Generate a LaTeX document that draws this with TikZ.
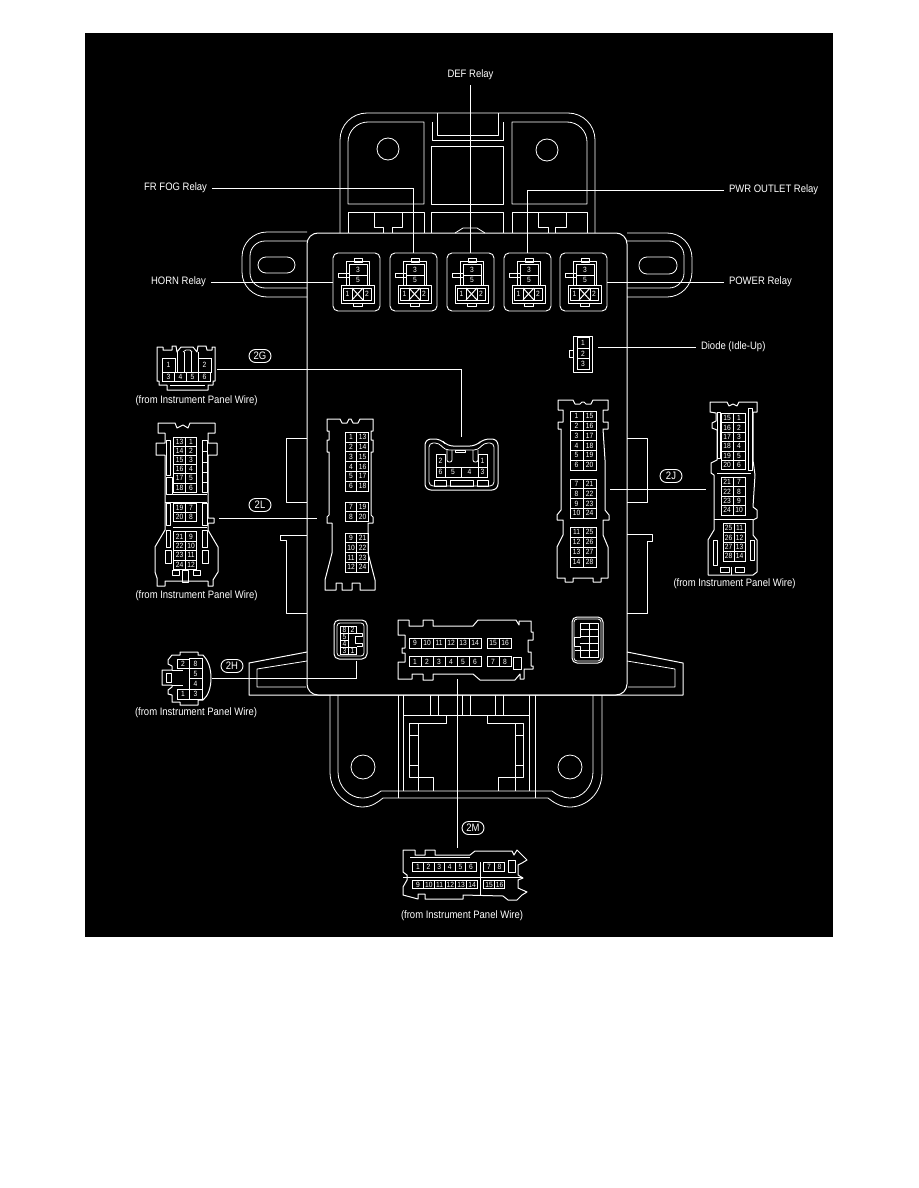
\documentclass[tikz,border=0pt]{standalone}
\usepackage{fontspec}
\setmainfont[FakeStretch=0.88]{Liberation Sans}

\tikzset{
    housing/.style={draw=white, line width=0.8pt, line join=round},
    shell/.style={draw=white, line width=1pt, line join=round},
    lead/.style={draw=white, line width=0.8pt},
    lbl/.style={text=white, inner sep=1.5pt, outer sep=3.5pt, font=\fontsize{10.8}{12}\selectfont},
    badge/.style={draw=white, line width=0.9pt, text=white, rounded corners=6.5pt, minimum width=22pt, minimum height=13pt, inner sep=0pt, font=\fontsize{10.8}{12}\selectfont},
    pin/.style={draw=white, line width=0.8pt, text=white, inner sep=0pt, outer sep=0pt, font=\fontsize{7.6}{8}\selectfont},
    relaybox/.style={draw=white, line width=0.9pt, rounded corners=5pt, minimum width=47pt, minimum height=58pt, inner sep=0pt},
}

% one straight run of numbered cells
\newcommand{\pinline}[8]{
    \foreach \pinno [count=\pinidx from 0] in {#8} {
        \node[pin, minimum width=#6, minimum height=#7] (#1\pinno) at ({#2+\pinidx*#4},{#3+\pinidx*#5}) {\pinno};
    }
}

\newcommand{\relay}[2]{
    \begin{scope}[shift={(#2,253)}]
        \node[relaybox] (#1) at (23.5,29) {};
        \draw[shell] (21,5) rectangle (29,9);
        \draw[shell] (13,8) rectangle (36,32);
        \draw[shell] (16,11) rectangle (34,32);
        \draw[shell] (16,22) -- (34,22);
        \draw[shell] (16,20) -- (5,20) -- (5,24) -- (16,24);
        \draw[shell] (8,32) rectangle (41,50);
        \draw[shell] (10,35) rectangle (38,47);
        \draw[shell] (19,35) -- (19,47);
        \draw[shell] (30,35) -- (30,47);
        \draw[shell] (19,35) -- (30,47);
        \draw[shell] (30,35) -- (19,47);
        \draw[shell] (20,50) rectangle (29,53);
        \node[text=white, font=\fontsize{7.6}{8}\selectfont] (#1c) at (25,16.5) {3};
        \node[text=white, font=\fontsize{7.6}{8}\selectfont] (#1e) at (25,27) {5};
        \node[text=white, font=\fontsize{7.6}{8}\selectfont] (#1a) at (14.5,41) {1};
        \node[text=white, font=\fontsize{7.6}{8}\selectfont] (#1b) at (34,41) {2};
    \end{scope}
}

\begin{document}
\begin{tikzpicture}[x=1pt,y=-1pt]

    \useasboundingbox (0,0) rectangle (918,1188);
    \fill[black] (85,33) rectangle (833,937);

    % upper housing
    \draw[housing, rounded corners=27pt] (340,233) -- (340,113) -- (595,113) -- (595,233);
    \draw[housing] (437,113) -- (437,135) -- (498,135) -- (498,113);
    \draw[housing] (432,122) -- (432,140) -- (503,140) -- (503,122);
    \draw[housing] (431,146) rectangle (503,204);
    \draw[housing] (424,204) -- (348,204) [rounded corners=20pt] -- (348,122) [sharp corners] -- (424,122) -- cycle;
    \draw[housing] (512,204) -- (587,204) [rounded corners=20pt] -- (587,122) [sharp corners] -- (512,122) -- cycle;
    \draw[housing] (388,149) circle (11);
    \draw[housing] (547,150) circle (11);
    \draw[housing] (348,233) -- (348,212) -- (424,212) -- (424,233);
    \draw[housing] (374,212) -- (374,227) -- (383,227) -- (383,233);
    \draw[housing] (402,212) -- (402,227) -- (392,227) -- (392,233);
    \draw[housing] (431,233) -- (431,212) -- (503,212) -- (503,233);
    \draw[housing] (455,233) -- (463,228) -- (477,228) -- (485,233);
    \draw[housing] (512,233) -- (512,212) -- (587,212) -- (587,233);
    \draw[housing] (538,212) -- (538,227) -- (548,227) -- (548,233);
    \draw[housing] (566,212) -- (566,227) -- (555,227) -- (555,233);

    % main body and its ears
    \draw[shell, rounded corners=11pt] (307,233) rectangle (627,695);
    \draw[housing, rounded corners=25pt] (307,232) -- (242,232) -- (242,297) -- (307,297);
    \draw[housing, rounded corners=15pt] (307,241) -- (250,241) -- (250,288) -- (307,288);
    \draw[housing, rounded corners=8pt] (258,257) rectangle (295,273);
    \draw[housing, rounded corners=25pt] (627,233) -- (692,233) -- (692,297) -- (627,297);
    \draw[housing, rounded corners=15pt] (627,241) -- (684,241) -- (684,288) -- (627,288);
    \draw[housing, rounded corners=8pt] (639,257) rectangle (677,274);

    \draw[housing] (307,438) -- (286,438) -- (286,502) -- (307,502);
    \draw[housing] (307,535) -- (280,535) -- (280,540) -- (286,540) -- (286,613) -- (307,613);
    \draw[housing] (627,438) -- (647,438) -- (647,502) -- (627,502);
    \draw[housing] (627,534) -- (652,534) -- (652,541) -- (647,541) -- (647,613) -- (627,613);

    % lower wings
    \draw[shell] (307,652) -- (249,663) -- (249,695) -- (683,695) -- (683,663) -- (627,652);
    \draw[housing] (307,661) -- (257,669) -- (257,687) -- (306,687);
    \draw[housing] (627,661) -- (675,669) -- (675,687) -- (628,687);

    % lower housing
    \draw[housing] (330,695) -- (330,772) .. controls (330,795) and (350,807) .. (362,807) .. controls (372,807) and (378,802) .. (383,798) -- (548,798) .. controls (553,802) and (560,807) .. (570,807) .. controls (585,807) and (602,795) .. (602,772) -- (602,695);
    \draw[housing] (338,695) -- (338,772) .. controls (338,787) and (350,798) .. (362,798) .. controls (370,798) and (376,795) .. (381,791) -- (552,791) .. controls (557,795) and (563,798) .. (570,798) .. controls (582,798) and (593,787) .. (593,772) -- (593,695);
    \draw[housing] (363,767) circle (12);
    \draw[housing] (570,767) circle (12);
    \draw[housing] (398,695) -- (398,798);
    \draw[housing] (403,695) -- (403,791);
    \draw[housing] (529,695) -- (529,791);
    \draw[housing] (535,695) -- (535,798);
    \draw[housing] (403,715) -- (529,715);
    \foreach \slotx in {430,438,462,470,495,503} {
        \draw[housing] (\slotx,695) -- (\slotx,715);
    }
    \draw[housing] (446,715) -- (446,723) -- (409,723) -- (409,777) -- (433,777) -- (433,791);
    \draw[housing] (418,723) -- (418,791);
    \draw[housing] (410,735) -- (418,735);
    \draw[housing] (410,765) -- (418,765);
    \draw[housing] (487,715) -- (487,723) -- (523,723) -- (523,777) -- (498,777) -- (498,791);
    \draw[housing] (515,723) -- (515,791);
    \draw[housing] (515,735) -- (523,735);
    \draw[housing] (515,765) -- (523,765);

    % relays
    \relay{hornrelay}{333}
    \relay{fogrelay}{390}
    \relay{defrelay}{447}
    \relay{pwrrelay}{504}
    \relay{powerrelay}{560}

    \node[lbl, anchor=east] (horntext) at (211,282) {HORN Relay};
    \node[lbl, anchor=east] (fogtext) at (212,188) {FR FOG Relay};
    \node[lbl] (deftext) at (470.5,75) {DEF Relay};
    \node[lbl, anchor=west] (pwrtext) at (724,190) {PWR OUTLET Relay};
    \node[lbl, anchor=west] (powertext) at (724,282) {POWER Relay};

    \draw[lead] (horntext.east) -- (hornrelay.west);
    \draw[lead] (fogtext.east) -| (fogrelay.north);
    \draw[lead] (deftext.south) -- (defrelay.north);
    \draw[lead] (pwrtext.west) -| (pwrrelay.north);
    \draw[lead] (powertext.west) -- (powerrelay.east);

    % diode
    \draw[shell] (573,336) rectangle (592,372);
    \draw[shell] (573,350) -- (569,350) -- (569,357) -- (573,357);
    \pinline{diode}{583}{343}{0}{10.5}{12}{10.5}{1,2,3}
    \node[lbl, anchor=west] (diodetext) at (696,347) {Diode (Idle-Up)};
    \coordinate (diodeend) at (598,347);
    \draw[lead] (diodeend) -- (diodetext.west);

    % 2G plug
    \draw[shell] (157,347) -- (163,347) -- (163,350) -- (172,350) -- (172,346) -- (176,346) -- (177,352) -- (181,347) -- (193,347) -- (197,352) -- (198,346) -- (206,346) -- (207,350) -- (212,350) -- (212,347) -- (215,347) -- (215,381) -- (213,381) -- (213,385) -- (208,385) -- (208,390) -- (167,390) -- (167,385) -- (159,385) -- (159,381) -- (157,381) -- cycle;
    \draw[housing] (177,352) -- (177,372) -- (184,372) -- (184,352);
    \draw[housing] (191,352) -- (191,372) -- (198,372) -- (198,352);
    \draw[housing] (183,352) -- (186,350) -- (190,350) -- (192,352);
    \draw[housing] (170,385) -- (205,385);
    \node[pin, minimum width=13, minimum height=14] (g1) at (168.5,365) {1};
    \node[pin, minimum width=13, minimum height=14] (g2) at (204.5,365) {2};
    \pinline{gr}{168.5}{376.5}{12}{0}{12}{9}{3,4,5,6}
    \node[badge] (tag2G) at (260,356) {2G};
    \node[lbl] (from2G) at (196.5,401) {(from Instrument Panel Wire)};

    % 2G socket
    \draw[shell, rounded corners=6pt] (425,490) -- (425,439) -- (441,439) -- (447,446) -- (476,446) -- (483,439) -- (498,439) -- (498,490) -- cycle;
    \draw[housing, rounded corners=4pt] (429,486) -- (429,443) -- (439,443) -- (445,450) -- (478,450) -- (484,443) -- (494,443) -- (494,486) -- cycle;
    \draw[housing, rounded corners=2pt] (447,450) -- (447,462) -- (452,462) -- (452,450);
    \draw[housing, rounded corners=2pt] (473,450) -- (473,462) -- (478,462) -- (478,450);
    \draw[housing] (455,450) rectangle (465,452);
    \node[pin, minimum width=9, minimum height=13] (sg2) at (440.5,460.5) {2};
    \node[pin, minimum width=9, minimum height=13] (sg1) at (482.5,460.5) {1};
    \node[pin, minimum width=9, minimum height=10] (sg6) at (440.5,472) {6};
    \node[pin, minimum width=16, minimum height=10] (sg5) at (453,472) {5};
    \node[pin, minimum width=17, minimum height=10] (sg4) at (469.5,472) {4};
    \node[pin, minimum width=9, minimum height=10] (sg3) at (482.5,472) {3};
    \draw[housing] (434,480) rectangle (446,486);
    \draw[housing] (450,480) rectangle (473,486);
    \draw[housing] (477,480) rectangle (488,486);
    \coordinate (plug2G) at (217,369);
    \coordinate (sock2G) at (461,437);
    \draw[lead] (plug2G) -| (sock2G);

    % 2L plug
    \draw[shell] (158,423) -- (175,423) -- (177,428) -- (183,425) -- (188,428) -- (190,423) -- (215,423) -- (215,433) -- (208,433) -- (208,443) -- (217,443) -- (217,455) -- (208,455) -- (208,518) -- (214,518) -- (214,523) -- (208,523) -- (208,530) -- (218,547) -- (218,572) -- (213,580) -- (213,586) -- (208,586) -- (208,581) -- (165,581) -- (165,586) -- (157,586) -- (157,578) -- (155,572) -- (155,547) -- (165,530) -- (165,455) -- (156,455) -- (156,443) -- (165,443) -- (165,433) -- (158,433) -- cycle;
    \draw[housing] (166,440) rectangle (170,475);
    \draw[housing] (202,440) rectangle (207,492);
    \foreach \rung in {451,462,472,482} {
        \draw[housing] (202,\rung) -- (207,\rung);
    }
    \draw[housing] (166,477) rectangle (172,494);
    \draw[housing] (173,494) -- (207,494);
    \draw[housing] (165,502) -- (207,502);
    \draw[housing] (166,503) rectangle (170,525);
    \draw[housing] (202,503) rectangle (207,525);
    \draw[housing] (173,527) -- (207,527);
    \draw[housing] (166,530) rectangle (170,547);
    \draw[housing] (202,530) rectangle (207,547);
    \draw[housing] (165,550) rectangle (171,563);
    \draw[housing] (202,550) rectangle (208,563);
    \draw[housing] (172,570) rectangle (179,575);
    \draw[housing] (193,570) rectangle (200,575);
    \draw[housing] (182,570) rectangle (188,582);
    \pinline{la}{179.5}{441.5}{0}{9.2}{11.5}{9.2}{13,14,15,16,17,18}
    \pinline{lb}{191}{441.5}{0}{9.2}{11.5}{9.2}{1,2,3,4,5,6}
    \pinline{lc}{179.5}{507.5}{0}{9}{11.5}{9}{19,20}
    \pinline{ld}{191}{507.5}{0}{9}{11.5}{9}{7,8}
    \pinline{le}{179.5}{536.5}{0}{9.4}{11.5}{9.4}{21,22,23,24}
    \pinline{lf}{191}{536.5}{0}{9.4}{11.5}{9.4}{9,10,11,12}
    \node[badge] (tag2L) at (260,505) {2L};
    \node[lbl] (from2L) at (196.5,596) {(from Instrument Panel Wire)};

    % 2L socket
    \draw[shell] (327,419) -- (340,419) -- (342,423) -- (347,423) -- (349,419) -- (351,419) -- (353,423) -- (358,423) -- (360,419) -- (373,419) -- (373,431) -- (371,431) -- (371,440) -- (373,440) -- (373,452) -- (371,452) -- (371,515) -- (373,517) -- (373,523) -- (368,523) -- (368,553) -- (375,580) -- (375,590) -- (360,590) -- (360,583) -- (352,583) -- (352,590) -- (342,590) -- (342,583) -- (336,583) -- (336,590) -- (325,590) -- (325,580) -- (332,553) -- (332,523) -- (327,523) -- (327,517) -- (329,515) -- (329,452) -- (327,452) -- (327,440) -- (329,440) -- (329,431) -- (327,431) -- cycle;
    \pinline{sa}{351}{437}{0}{9.8}{11.5}{9.8}{1,2,3,4,5,6}
    \pinline{sb}{362.5}{437}{0}{9.8}{11.5}{9.8}{13,14,15,16,17,18}
    \pinline{sc}{351}{507}{0}{9.5}{11.5}{9.5}{7,8}
    \pinline{sd}{362.5}{507}{0}{9.5}{11.5}{9.5}{19,20}
    \pinline{se}{351}{538}{0}{9.7}{11.5}{9.7}{9,10,11,12}
    \pinline{sf}{362.5}{538}{0}{9.7}{11.5}{9.7}{21,22,23,24}
    \coordinate (plug2L) at (219,518);
    \coordinate (sock2L) at (317,518);
    \draw[lead] (plug2L) -- (sock2L);

    % 2J socket
    \draw[shell] (558,400) -- (573,400) -- (575,404) -- (580,404) -- (582,402) -- (584,402) -- (586,404) -- (591,404) -- (593,400) -- (608,400) -- (608,410) -- (603,410) -- (603,422) -- (608,422) -- (608,429) -- (603,429) -- (605,460) -- (605,510) -- (609,515) -- (609,520) -- (603,520) -- (603,535) -- (608,547) -- (608,578) -- (601,578) -- (601,582) -- (593,582) -- (593,578) -- (573,578) -- (573,582) -- (565,582) -- (565,578) -- (557,578) -- (557,547) -- (563,535) -- (563,520) -- (557,520) -- (557,515) -- (561,510) -- (561,429) -- (558,429) -- (558,422) -- (563,422) -- (563,410) -- (558,410) -- cycle;
    \pinline{ja}{576.5}{416}{0}{9.8}{13}{9.8}{1,2,3,4,5,6}
    \pinline{jb}{589.5}{416}{0}{9.8}{13}{9.8}{15,16,17,18,19,20}
    \pinline{jc}{576.5}{484}{0}{9.7}{13}{9.7}{7,8,9,10}
    \pinline{jd}{589.5}{484}{0}{9.7}{13}{9.7}{21,22,23,24}
    \pinline{je}{576.5}{532}{0}{10}{13}{10}{11,12,13,14}
    \pinline{jf}{589.5}{532}{0}{10}{13}{10}{25,26,27,28}
    \node[badge] (tag2J) at (671,476) {2J};
    \coordinate (sock2J) at (610,489);
    \coordinate (plug2J) at (706,489);
    \draw[lead] (sock2J) -- (plug2J);

    % 2J plug
    \draw[shell] (710,402) -- (727,402) -- (729,406) -- (733,404) -- (737,406) -- (739,402) -- (757,402) -- (757,412) -- (753,412) -- (753,460) -- (755,475) -- (753,507) -- (757,510) -- (757,518) -- (753,520) -- (753,535) -- (757,540) -- (757,572) -- (753,575) -- (708,575) -- (708,540) -- (714,530) -- (714,475) -- (711,473) -- (711,463) -- (717,460) -- (717,430) -- (712,428) -- (712,423) -- (716,421) -- (716,413) -- (710,412) -- cycle;
    \draw[housing] (748,408) rectangle (752,470);
    \draw[housing] (717,412) rectangle (720,458);
    \draw[housing] (717,473) -- (751,473);
    \draw[housing] (714,519) -- (753,519);
    \draw[housing] (713,540) rectangle (717,565);
    \draw[housing] (750,540) rectangle (754,560);
    \draw[housing] (720,567) rectangle (729,572);
    \draw[housing] (735,567) rectangle (744,572);
    \draw[housing] (731,567) -- (731,575);
    \pinline{pa}{727}{418}{0}{9.4}{12}{9.4}{15,16,17,18,19,20}
    \pinline{pb}{739}{418}{0}{9.4}{12}{9.4}{1,2,3,4,5,6}
    \pinline{pc}{727}{482}{0}{9.4}{12}{9.4}{21,22,23,24}
    \pinline{pd}{739}{482}{0}{9.4}{12}{9.4}{7,8,9,10}
    \pinline{pe}{728.5}{528}{0}{9.4}{11}{9.4}{25,26,27,28}
    \pinline{pf}{739.5}{528}{0}{9.4}{11}{9.4}{11,12,13,14}
    \node[lbl] (from2J) at (734.5,584) {(from Instrument Panel Wire)};

    % 2H plug
    \draw[shell] (172,655) -- (180,655) -- (180,652) -- (198,652) -- (198,655) -- (203,655) .. controls (208,660) and (211,668) .. (211,678) .. controls (211,688) and (208,696) .. (203,700) -- (198,700) -- (198,705) -- (180,705) -- (180,702) -- (172,702) -- (172,695) -- (168,694) -- (168,690) -- (172,687) -- (172,685) -- (162,685) -- (162,670) -- (172,670) -- (172,666) -- (168,664) -- (168,660) -- cycle;
    \draw[housing] (172,670) -- (183,670);
    \draw[housing] (172,685) -- (183,685);
    \draw[housing] (166,673) rectangle (171,682);
    \node[pin, minimum width=12, minimum height=9] (hb) at (183,663.5) {2};
    \node[pin, minimum width=12, minimum height=10] (ha) at (183,694) {1};
    \pinline{hc}{195.5}{663.5}{0}{10.2}{13}{10.2}{8,5,4,3}
    \node[badge] (tag2H) at (232,666) {2H};
    \node[lbl] (from2H) at (196,713) {(from Instrument Panel Wire)};
    \coordinate (plug2H) at (212,678);

    % 2H socket
    \draw[shell, rounded corners=5pt] (334,620) rectangle (367,659);
    \draw[housing, rounded corners=3pt] (337,623) rectangle (364,656);
    \node[pin, minimum width=7.5, minimum height=7] (hsc) at (344.5,629.5) {8};
    \node[pin, minimum width=8, minimum height=7] (hsb) at (352.5,629.5) {2};
    \node[pin, minimum width=7.5, minimum height=7] (hse) at (344.5,636.5) {5};
    \node[pin, minimum width=7.5, minimum height=7] (hsd) at (344.5,643.5) {4};
    \node[pin, minimum width=7.5, minimum height=7] (hsg) at (344.5,650.5) {3};
    \node[pin, minimum width=8, minimum height=7] (hsa) at (352.5,650.5) {1};
    \draw[housing] (357,633) -- (362,633) -- (362,636) -- (355,636) -- (355,643) -- (362,643) -- (362,646) -- (357,646);
    \coordinate (sock2H) at (356,661);
    \draw[lead] (plug2H) -| (sock2H);

    % spare socket
    \draw[shell, rounded corners=5pt] (572,617) rectangle (603,663);
    \draw[housing, rounded corners=3pt] (574,619) rectangle (601,661);
    \draw[housing] (580,623) -- (598,623) -- (598,657) -- (580,657) -- (580,650) -- (575,650);
    \draw[housing] (580,623) -- (580,637) -- (574,637) -- (574,646) -- (580,646) -- (580,650);
    \draw[housing] (589,623) -- (589,657);
    \foreach \gridy in {629,636,643,650} {
        \draw[housing] (580,\gridy) -- (598,\gridy);
    }

    % 2M socket
    \draw[shell] (398,620) -- (409,620) -- (409,626) -- (423,626) -- (423,620) -- (433,620) -- (433,626) -- (473,626) -- (478,620) -- (516,620) -- (519,625) -- (519,621) -- (531,621) -- (531,632) -- (533,632) -- (533,640) -- (528,640) -- (528,652) -- (531,652) -- (531,666) -- (533,666) -- (533,669) -- (524,669) -- (524,679) -- (520,679) -- (520,674) -- (515,680) -- (480,680) -- (473,674) -- (433,674) -- (433,680) -- (423,680) -- (423,674) -- (412,674) -- (412,679) -- (398,679) -- (398,662) -- (405,662) -- (405,653) -- (402,653) -- (402,648) -- (405,648) -- (405,635) -- (398,635) -- cycle;
    \pinline{ma}{415}{643}{12}{0}{12}{10}{9,10,11,12,13,14}
    \pinline{mb}{493}{643}{12}{0}{12}{10}{15,16}
    \pinline{mc}{415}{661.5}{12}{0}{12}{9.5}{1,2,3,4,5,6}
    \pinline{md}{493}{661.5}{12}{0}{12}{9.5}{7,8}
    \draw[housing] (513,657) rectangle (521,669);
    \coordinate (sock2M) at (457,679);
    \coordinate (plug2M) at (457,848);
    \draw[lead] (sock2M) -- (plug2M);
    \node[badge] (tag2M) at (473,828) {2M};

    % 2M plug
    \draw[shell] (403,850) -- (415,850) -- (415,855) -- (425,855) -- (425,850) -- (435,850) -- (435,855) -- (470,855) -- (475,851) -- (512,851) -- (514,855) -- (517,850) -- (520,853) -- (527,860) -- (522,863) -- (518,865) -- (518,875) -- (523,878) -- (518,880) -- (518,888) -- (527,892) -- (522,895) -- (517,900) -- (508,900) -- (503,896) -- (463,895) -- (463,899) -- (425,899) -- (425,894) -- (418,894) -- (418,899) -- (403,895) -- (403,887) -- (407,880) -- (407,875) -- (403,872) -- cycle;
    \draw[housing] (403,877) -- (523,877);
    \draw[housing] (480,862) -- (480,896);
    \draw[housing] (410,857) -- (470,857);
    \pinline{na}{418}{866.5}{10.6}{0}{10.6}{9}{1,2,3,4,5,6}
    \pinline{nb}{489}{866.5}{10.5}{0}{10.5}{9}{7,8}
    \pinline{nc}{418}{884.5}{10.8}{0}{10.8}{8}{9,10,11,12,13,14}
    \pinline{nd}{489}{884.5}{10.5}{0}{10.5}{8}{15,16}
    \draw[housing] (508,860) rectangle (515,872);
    \node[lbl] (from2M) at (462,916) {(from Instrument Panel Wire)};

\end{tikzpicture}
\end{document}
